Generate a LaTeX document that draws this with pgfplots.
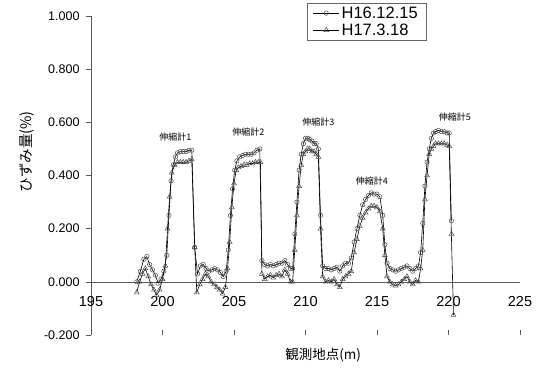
\documentclass[border=0pt]{standalone}
\usepackage{fontspec}
\setmainfont{Liberation Sans}
\newfontfamily\cjk{Noto Sans CJK JP}
\usepackage{pgfplots}
\pgfplotsset{compat=1.18}
\usepackage{pgfplotstable}
\pgfplotstableread{
x y
198.2 0.00
198.45 0.04
198.7 0.085
198.9 0.095
199.1 0.065
199.3 0.045
199.5 0.025
199.7 -0.005
199.9 0.01
200.1 0.04
200.3 0.10
200.45 0.25
200.6 0.38
200.75 0.44
200.9 0.47
201.05 0.485
201.25 0.49
201.45 0.49
201.65 0.49
201.85 0.495
202.05 0.495
202.25 0.13
202.45 0.03
202.65 0.06
202.85 0.065
203.05 0.05
203.25 0.04
203.45 0.045
203.65 0.05
203.85 0.045
204.05 0.035
204.25 0.02
204.45 0.04
204.6 0.12
204.75 0.25
204.9 0.35
205.05 0.42
205.2 0.455
205.4 0.47
205.6 0.475
205.8 0.48
206.0 0.48
206.2 0.48
206.4 0.485
206.6 0.495
206.8 0.50
206.95 0.08
207.15 0.065
207.35 0.06
207.55 0.065
207.75 0.06
207.95 0.065
208.15 0.07
208.35 0.07
208.55 0.08
208.75 0.065
208.95 0.05
209.1 0.05
209.25 0.18
209.4 0.30
209.55 0.42
209.7 0.48
209.85 0.52
210.0 0.54
210.15 0.54
210.3 0.535
210.45 0.53
210.6 0.52
210.75 0.52
210.9 0.50
211.05 0.25
211.2 0.06
211.4 0.05
211.6 0.05
211.8 0.045
212.0 0.05
212.2 0.055
212.4 0.04
212.6 0.06
212.8 0.07
213.0 0.07
213.2 0.09
213.4 0.15
213.6 0.20
213.8 0.25
214.0 0.29
214.2 0.31
214.4 0.325
214.6 0.335
214.8 0.33
215.0 0.33
215.2 0.32
215.4 0.25
215.55 0.14
215.7 0.07
215.9 0.05
216.1 0.045
216.3 0.04
216.5 0.045
216.7 0.05
216.9 0.055
217.1 0.06
217.3 0.05
217.5 0.04
217.7 0.05
217.9 0.06
218.05 0.11
218.2 0.22
218.35 0.36
218.5 0.45
218.65 0.50
218.8 0.54
218.95 0.56
219.1 0.565
219.3 0.57
219.5 0.565
219.7 0.565
219.9 0.56
220.05 0.56
220.2 0.23
}\seriesA
\pgfplotstableread{
x y
198.2 -0.04
198.4 0.0
198.6 0.03
198.8 0.05
199.0 0.02
199.2 -0.01
199.4 -0.03
199.6 -0.05
199.8 -0.03
200.0 0.01
200.2 0.06
200.35 0.20
200.5 0.32
200.65 0.41
200.85 0.44
201.05 0.45
201.25 0.45
201.45 0.45
201.65 0.45
201.85 0.455
202.05 0.46
202.25 0.13
202.4 -0.04
202.6 -0.01
202.8 0.01
203.0 0.03
203.2 0.02
203.4 0.0
203.6 -0.01
203.8 -0.02
204.0 -0.03
204.2 -0.045
204.4 -0.02
204.55 0.05
204.7 0.15
204.85 0.28
205.0 0.37
205.15 0.42
205.3 0.43
205.5 0.435
205.7 0.44
205.9 0.44
206.1 0.445
206.3 0.445
206.5 0.45
206.7 0.45
206.85 0.45
206.95 0.03
207.15 0.01
207.35 0.02
207.55 0.025
207.75 0.015
207.95 0.025
208.15 0.03
208.35 0.02
208.55 0.045
208.75 0.03
208.95 0.0
209.1 0.0
209.25 0.12
209.4 0.25
209.55 0.36
209.7 0.44
209.85 0.48
210.0 0.49
210.15 0.50
210.3 0.50
210.45 0.49
210.6 0.49
210.75 0.48
210.9 0.47
211.05 0.20
211.2 0.02
211.4 0.0
211.6 0.005
211.8 0.0
212.0 0.01
212.2 -0.01
212.4 -0.02
212.6 0.01
212.8 0.02
213.0 0.03
213.2 0.04
213.4 0.11
213.6 0.16
213.8 0.21
214.0 0.24
214.2 0.26
214.4 0.275
214.6 0.285
214.8 0.285
215.0 0.28
215.2 0.265
215.4 0.20
215.55 0.10
215.7 0.02
215.9 0.0
216.1 -0.01
216.3 -0.015
216.5 -0.01
216.7 0.0
216.9 0.01
217.1 0.02
217.3 0.0
217.5 -0.01
217.7 0.005
217.9 0.0
218.05 0.05
218.2 0.12
218.35 0.31
218.5 0.40
218.65 0.48
218.8 0.50
218.95 0.51
219.1 0.52
219.3 0.52
219.5 0.52
219.7 0.52
219.9 0.515
220.05 0.51
220.2 0.18
220.35 -0.125
}\seriesB
\begin{document}
\begin{tikzpicture}
\begin{axis}[
  scale only axis, width=429pt, height=319pt,
  xmin=195, xmax=225, ymin=-0.2, ymax=1.0,
  axis y line*=left, axis x line*=middle,
  hide obscured x ticks=false,
  axis line style={black!65, line width=0.6pt},
  xtick={195,200,205,210,215,220,225},
  ytick={-0.2,0,0.2,0.4,0.6,0.8,1.0},
  yticklabels={-0.200,0.000,0.200,0.400,0.600,0.800,1.000},
  xticklabel style={font=\fontsize{14.5}{16}\selectfont, yshift=-11pt},
  yticklabel style={font=\fontsize{12.5}{14}\selectfont, xshift=-3pt},
  /pgf/number format/assume math mode=true,
  x tick style={black!65, line width=0.5pt}, xtick align=inside,
  y tick style={black!65, line width=0.5pt}, ytick align=outside,
  major tick length=5pt,
  tick pos=left,
  clip=false,
  xlabel={\cjk 観測地点(m)},
  xlabel style={at={(axis description cs:0.541,-0.063)}, anchor=center, font=\fontsize{13.5}{15}\selectfont},
  ylabel={\cjk ひずみ量(\%)},
  ylabel style={at={(axis description cs:-0.149,0.574)}, anchor=center, rotate=0, font=\fontsize{14.5}{16}\selectfont},
  legend style={at={(axis description cs:0.503,1.041)}, anchor=north west,
    draw=black!60, row sep=0pt,
    inner xsep=6pt, inner ysep=1.5pt},
  legend image code/.code={%
    \draw[mark repeat=2,mark phase=2,#1] plot coordinates {(0pt,0pt) (13pt,0pt) (26pt,0pt)};},
  legend cell align=left,
  every axis plot/.append style={line width=0.6pt},
]
\addplot[black, mark=o, mark size=2.2pt, mark options={black!70, line width=0.5pt}] table[x=x,y=y] {\seriesA};
\addlegendentry{\fontsize{16.5}{18}\selectfont H16.12.15}
\addplot[black, mark=triangle, mark size=2.8pt, mark options={black!70, line width=0.5pt, fill=white}] table[x=x,y=y] {\seriesB};
\addlegendentry{\fontsize{16.5}{18}\selectfont H17.3.18}
\node[font=\cjk\fontsize{9}{10}\selectfont] at (axis cs:200.9,0.545) {伸縮計1};
\node[font=\cjk\fontsize{9}{10}\selectfont] at (axis cs:206.0,0.565) {伸縮計2};
\node[font=\cjk\fontsize{9}{10}\selectfont] at (axis cs:210.9,0.60) {伸縮計3};
\node[font=\cjk\fontsize{9}{10}\selectfont] at (axis cs:214.65,0.38) {伸縮計4};
\node[font=\cjk\fontsize{9}{10}\selectfont] at (axis cs:220.45,0.62) {伸縮計5};
\end{axis}
\pgfresetboundingbox
\path (-91pt,-35pt) rectangle (448pt,335pt);
\end{tikzpicture}
\end{document}
